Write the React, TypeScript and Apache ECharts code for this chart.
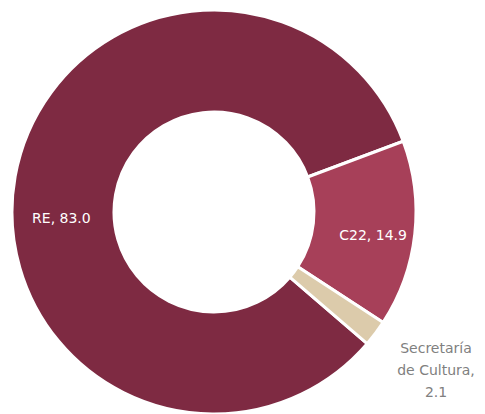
import React, { useEffect, useRef } from "react";
import * as echarts from "echarts";

const categories = ["RE", "C22", "Secretaría de Cultura"];
const values = [83.0, 14.9, 2.1];
const colors = ["#7e2a42", "#a74059", "#dccbab"];

export default function App() {
  const ref = useRef<HTMLDivElement>(null);
  useEffect(() => {
    if (!ref.current) return;
    const chart = echarts.init(ref.current, undefined, { renderer: "svg" });
    const data = categories.map((name, i) => {
      const item: any = { name, value: values[i], itemStyle: { color: colors[i] } };
      if (i === 0) {
        item.label = { position: "inside", offset: [-1, 33] };
      } else if (i === 1) {
        item.label = { position: "inside", offset: [6, 6] };
      } else {
        item.label = {
          position: "outside",
          color: "#808080",
          fontSize: 14,
          lineHeight: 22,
          align: "center",
          overflow: "none",
          width: 120,
          formatter: (p: any) => "Secretaría\nde Cultura,\n" + p.value.toFixed(1),
        };
        item.labelLine = { show: false };
      }
      return item;
    });
    chart.setOption({
      animation: false,
      series: [
        {
          type: "pie",
          center: [214, 212],
          radius: [100, 202],
          startAngle: 319.3,
          clockwise: true,
          itemStyle: { borderColor: "#ffffff", borderWidth: 3 },
          label: {
            show: true,
            color: "#ffffff",
            fontSize: 14,
            fontFamily: "DejaVu Sans",
            formatter: (p: any) => p.name + ", " + p.value.toFixed(1),
          },
          labelLine: { show: false },
          labelLayout: (params: any) => {
            if (params.dataIndex === 2) {
              return { x: 436, y: 370, align: "center", verticalAlign: "middle" };
            }
            return {};
          },
          data,
        },
      ],
    });
    return () => chart.dispose();
  }, []);
  return (
    <div
      ref={ref}
      style={{ position: "fixed", left: 0, top: 0, width: 485, height: 414, background: "#fff" }}
    />
  );
}
